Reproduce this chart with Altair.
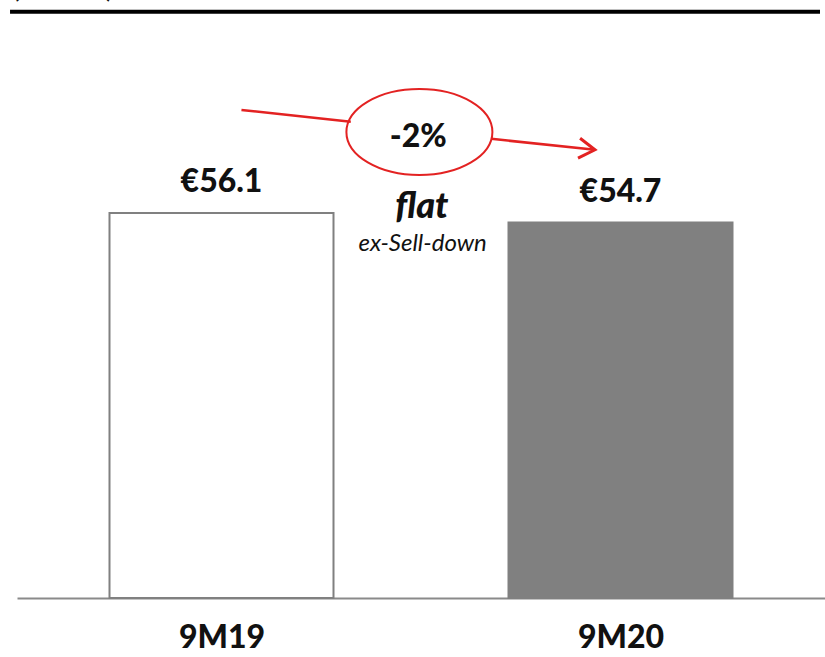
import altair as alt
import pandas as pd

# ---- data ----
categories = ["9M19", "9M20"]
positions = [0, 1]
values = [56.1, 54.7]
labels = ["€56.1", "€54.7"]
fills = ["#ffffff", "#808080"]
strokes = ["#808080", "#808080"]

change_label = "-2%"
note_main = "flat"
note_sub = "ex-Sell-down"
header_text = "(€ billions)"

# annotation anchor points in data units (x position, y value)
left_line_x = [0.05, 0.324]
left_line_y = [71.1, 69.4]
right_arrow_x = [0.676, 0.936]
right_arrow_y = [66.9, 65.3]
ellipse_xy = [0.496, 67.9]
change_xy = [0.493, 67.2]
note_main_xy = [0.502, 55.4]
note_sub_xy = [0.504, 50.6]
top_rule_x = [-0.53, 1.5]
top_rule_y = 85.4
header_xy = [-0.522, 87.45]

Y_MAX = 87.13
FONT = "Lato"
RED = "#e32222"

bars_df = pd.DataFrame({"cat": categories, "pos": positions, "value": values,
                        "label": labels, "fill": fills, "stroke": strokes})

xs = alt.Scale(domain=[-0.5, 1.5], nice=False, zero=False)
ys = alt.Scale(domain=[0, Y_MAX], nice=False, zero=True)

label_expr = "datum.value == 0 ? '9M19' : (datum.value == 1 ? '9M20' : '')"

bars = alt.Chart(bars_df).mark_bar(size=224, strokeWidth=2).encode(
    x=alt.X("pos:Q", scale=xs, axis=alt.Axis(
        values=positions, labelExpr=label_expr, title=None, grid=False,
        ticks=False, domainColor="#8a8a8a", domainWidth=2,
        labelFont=FONT, labelFontSize=32, labelFontWeight=900,
        labelColor="#111111", labelPadding=56, labelBaseline="bottom")),
    y=alt.Y("value:Q", scale=ys, axis=None),
    fill=alt.Fill("fill:N", scale=None),
    stroke=alt.Stroke("stroke:N", scale=None),
)

value_text = alt.Chart(bars_df).mark_text(
    font=FONT, fontSize=32, fontWeight=900, color="#111111",
    baseline="alphabetic", dy=-21
).encode(x=alt.X("pos:Q", scale=xs), y=alt.Y("value:Q", scale=ys), text="label:N")

left_df = pd.DataFrame({"x": left_line_x, "y": left_line_y})
left_line = alt.Chart(left_df).mark_line(color=RED, strokeWidth=2.5).encode(
    x=alt.X("x:Q", scale=xs), y=alt.Y("y:Q", scale=ys))

right_df = pd.DataFrame({"x": right_arrow_x, "y": right_arrow_y})
right_line = alt.Chart(right_df).mark_line(color=RED, strokeWidth=2.5).encode(
    x=alt.X("x:Q", scale=xs), y=alt.Y("y:Q", scale=ys))

head_df = pd.DataFrame({"x": [right_arrow_x[1]], "y": [right_arrow_y[1]]})
arrow_head = alt.Chart(head_df).mark_point(
    shape="M -2 -1.25 L 0 0 L -2 1.25", size=256, angle=6,
    filled=False, color=RED, strokeWidth=3, opacity=1
).encode(x=alt.X("x:Q", scale=xs), y=alt.Y("y:Q", scale=ys))

ell_df = pd.DataFrame({"x": [ellipse_xy[0]], "y": [ellipse_xy[1]]})
ellipse = alt.Chart(ell_df).mark_point(
    shape="M -1 0 A 1 0.59 0 1 1 1 0 A 1 0.59 0 1 1 -1 0 Z",
    size=146 * 146, filled=False, color=RED, strokeWidth=2, opacity=1
).encode(x=alt.X("x:Q", scale=xs), y=alt.Y("y:Q", scale=ys))

change_df = pd.DataFrame({"x": [change_xy[0]], "y": [change_xy[1]], "t": [change_label]})
change_text = alt.Chart(change_df).mark_text(
    font=FONT, fontSize=32, fontWeight=900, color="#111111", baseline="middle"
).encode(x=alt.X("x:Q", scale=xs), y=alt.Y("y:Q", scale=ys), text="t:N")

nm_df = pd.DataFrame({"x": [note_main_xy[0]], "y": [note_main_xy[1]], "t": [note_main]})
nm_text = alt.Chart(nm_df).mark_text(
    font=FONT, fontSize=36, fontWeight=900, fontStyle="italic",
    color="#111111", baseline="alphabetic"
).encode(x=alt.X("x:Q", scale=xs), y=alt.Y("y:Q", scale=ys), text="t:N")

ns_df = pd.DataFrame({"x": [note_sub_xy[0]], "y": [note_sub_xy[1]], "t": [note_sub]})
ns_text = alt.Chart(ns_df).mark_text(
    font=FONT, fontSize=24, fontStyle="italic", color="#111111", baseline="alphabetic"
).encode(x=alt.X("x:Q", scale=xs), y=alt.Y("y:Q", scale=ys), text="t:N")

rule_df = pd.DataFrame({"x": [top_rule_x[0]], "x2": [top_rule_x[1]], "y": [top_rule_y]})
top_rule = alt.Chart(rule_df).mark_rule(color="#000000", strokeWidth=4).encode(
    x=alt.X("x:Q", scale=xs), x2="x2:Q", y=alt.Y("y:Q", scale=ys))

hdr_df = pd.DataFrame({"x": [header_xy[0]], "y": [header_xy[1]], "t": [header_text]})
hdr_text = alt.Chart(hdr_df).mark_text(
    font=FONT, fontSize=22, fontWeight="bold", color="#111111",
    align="left", baseline="alphabetic"
).encode(x=alt.X("x:Q", scale=xs), y=alt.Y("y:Q", scale=ys), text="t:N")

chart = alt.layer(
    bars, value_text, left_line, right_line, arrow_head, ellipse,
    change_text, nm_text, ns_text, top_rule, hdr_text
).properties(
    width=808, height=598,
    autosize=alt.AutoSizeParams(type="none"),
    padding={"left": 17, "top": 0, "right": 0, "bottom": 59},
    background="#ffffff",
).configure_view(stroke=None)

chart.save("out.html", embed_options={"renderer": "svg", "actions": False})
